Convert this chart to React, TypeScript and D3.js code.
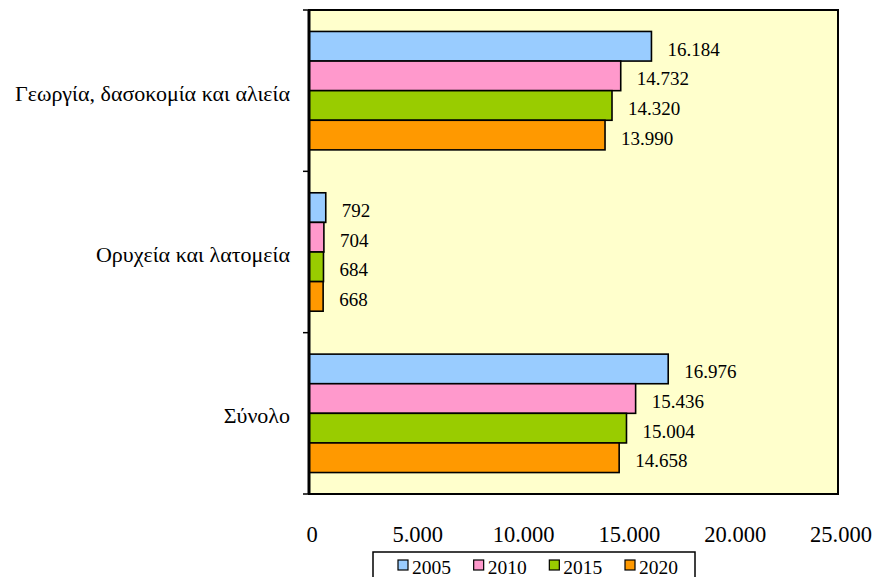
import React, { useEffect, useRef } from 'react';
import * as d3 from 'd3';

const categories = ['Γεωργία, δασοκομία και αλιεία', 'Ορυχεία και λατομεία', 'Σύνολο'];
const years = ['2005', '2010', '2015', '2020'];
const values2005 = [16184, 792, 16976];
const values2010 = [14732, 704, 15436];
const values2015 = [14320, 684, 15004];
const values2020 = [13990, 668, 14658];
const xTicks = [0, 5000, 10000, 15000, 20000, 25000];
const colors = ['#99CCFF', '#FF99CC', '#99CC00', '#FF9900'];

const fmt = (v: number) => d3.format(',')(v).replace(/,/g, '.');

const App = () => {
  const svgRef = useRef<SVGSVGElement>(null);

  useEffect(() => {
    if (!svgRef.current) return;
    const svg = d3.select(svgRef.current);
    svg.selectAll('*').remove();

    const left = 309, right = 838, top = 10, bottom = 494;
    const font = '"Liberation Serif", serif';
    const series = [values2005, values2010, values2015, values2020];

    const x = d3.scaleLinear().domain([0, 25000]).range([left, right]);
    const y = d3.scaleBand().domain(categories).range([top, bottom]).paddingInner(0.266).paddingOuter(0.133);
    const yInner = d3.scaleBand().domain(years).range([0, y.bandwidth()]);
    const yCat = d3.scaleBand().domain(categories).range([top, bottom]);

    // plot area
    svg.append('rect')
      .attr('x', left).attr('y', top)
      .attr('width', right - left).attr('height', bottom - top)
      .attr('fill', '#FFFFCC').attr('stroke', '#000').attr('stroke-width', 2);

    // bars
    series.forEach((vals, si) => {
      const g = svg.append('g');
      g.selectAll('rect')
        .data(vals)
        .enter()
        .append('rect')
        .attr('x', x(0))
        .attr('y', (_, i) => (y(categories[i]) as number) + (yInner(years[si]) as number))
        .attr('width', d => x(d) - x(0))
        .attr('height', yInner.bandwidth())
        .attr('fill', colors[si])
        .attr('stroke', '#000')
        .attr('stroke-width', 1.6);

      g.selectAll('text')
        .data(vals)
        .enter()
        .append('text')
        .attr('x', d => x(d) + 16)
        .attr('y', (_, i) => (y(categories[i]) as number) + (yInner(years[si]) as number) + yInner.bandwidth() / 2 + 9.5)
        .style('font-family', font)
        .style('font-size', '19px')
        .attr('fill', '#000')
        .text(d => fmt(d));
    });

    // left axis line and ticks
    svg.append('line')
      .attr('x1', left).attr('x2', left).attr('y1', top).attr('y2', bottom)
      .attr('stroke', '#000').attr('stroke-width', 3);
    const ticksY = [top, ...categories.map(c => (yCat(c) as number) + yCat.bandwidth())];
    svg.selectAll('.ytick')
      .data(ticksY)
      .enter()
      .append('line')
      .attr('x1', left - 6).attr('x2', left)
      .attr('y1', d => d).attr('y2', d => d)
      .attr('stroke', '#000').attr('stroke-width', 1.5);

    // category labels
    svg.selectAll('.cat')
      .data(categories)
      .enter()
      .append('text')
      .attr('x', 290)
      .attr('y', d => (yCat(d) as number) + yCat.bandwidth() / 2 + 10)
      .attr('text-anchor', 'end')
      .style('font-family', font)
      .style('font-size', '22px')
      .text(d => d);

    // x tick labels
    svg.selectAll('.xt')
      .data(xTicks)
      .enter()
      .append('text')
      .attr('x', d => x(d) + 3)
      .attr('y', 542)
      .attr('text-anchor', 'middle')
      .style('font-family', font)
      .style('font-size', '22.5px')
      .text(d => fmt(d));

    // legend
    const lg = svg.append('g');
    lg.append('rect')
      .attr('x', 373).attr('y', 552).attr('width', 322).attr('height', 40)
      .attr('fill', '#fff').attr('stroke', '#000').attr('stroke-width', 1.5);
    const lx = d3.scalePoint().domain(years).range([398, 625]);
    years.forEach((yr, i) => {
      const px = lx(yr) as number;
      lg.append('rect')
        .attr('x', px).attr('y', 560).attr('width', 10).attr('height', 10)
        .attr('fill', colors[i]).attr('stroke', '#000').attr('stroke-width', 1.2);
      lg.append('text')
        .attr('x', px + 14).attr('y', 574)
        .style('font-family', font)
        .style('font-size', '19.5px')
        .text(yr);
    });
  }, []);

  return (
    <svg
      ref={svgRef}
      width={877}
      height={577}
      viewBox="0 0 877 577"
      style={{ position: 'absolute', left: 0, top: 0, background: '#fff' }}
    />
  );
};

export default App;
